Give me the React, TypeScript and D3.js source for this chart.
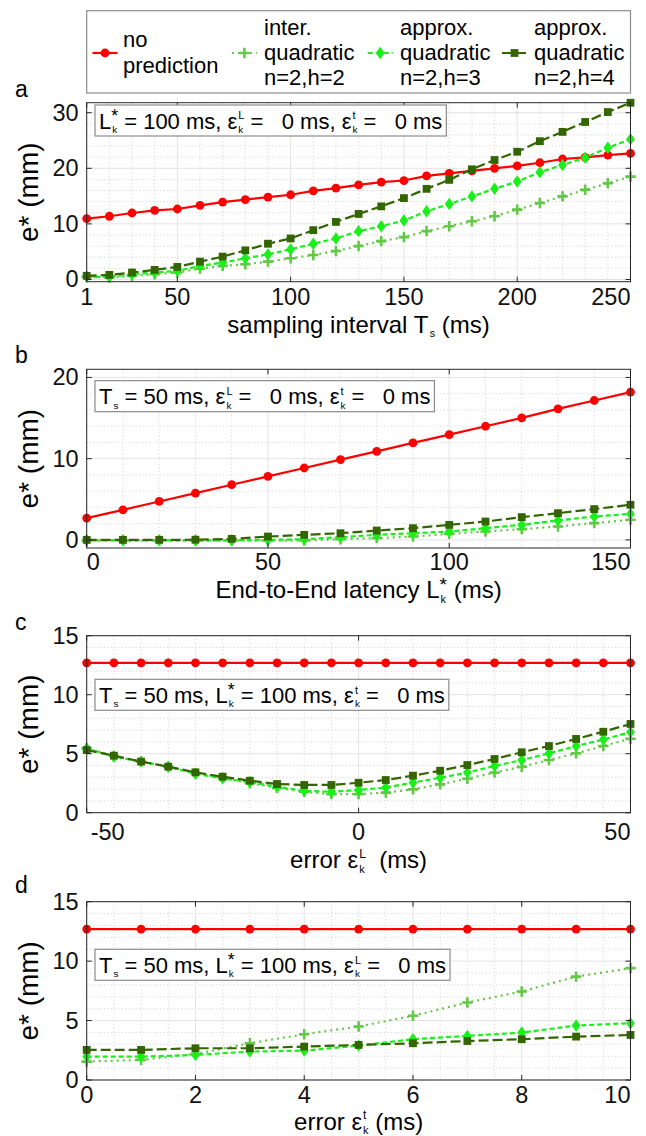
import React from 'react';
import * as d3 from 'd3';

const FONT = '"Liberation Sans", Arial, Helvetica, sans-serif';

// ---------------- data ----------------
const legendLines = [
  ['no', 'prediction'],
  ['inter.', 'quadratic', 'n=2,h=2'],
  ['approx.', 'quadratic', 'n=2,h=3'],
  ['approx.', 'quadratic', 'n=2,h=4'],
];

// panel a: sampling interval
const aX = [10, 20, 30, 40, 50, 60, 70, 80, 90, 100, 110, 120, 130, 140, 150, 160, 170, 180, 190, 200, 210, 220, 230, 240, 250];
const aNoPred = [10.95, 11.37, 11.96, 12.44, 12.68, 13.33, 13.93, 14.35, 14.82, 15.24, 15.95, 16.43, 17.02, 17.5, 17.8, 18.63, 19.1, 19.52, 20.0, 20.42, 21.0, 21.67, 21.96, 22.38, 22.68];
const aInter = [0.48, 0.36, 0.65, 0.95, 1.25, 1.96, 2.44, 2.74, 3.21, 3.81, 4.4, 5.12, 6.01, 6.9, 7.62, 8.69, 9.58, 10.48, 11.37, 12.56, 13.75, 14.94, 16.13, 17.32, 18.51];
const aApprox3 = [0.48, 0.48, 0.95, 1.25, 1.55, 2.44, 3.04, 3.81, 4.52, 5.42, 6.43, 7.38, 8.69, 9.58, 10.6, 12.26, 13.57, 14.94, 16.31, 17.62, 19.29, 20.6, 21.9, 23.69, 25.24];
const aApprox4 = [0.65, 0.83, 1.25, 1.73, 2.26, 3.21, 4.11, 5.24, 6.43, 7.38, 8.87, 10.36, 11.79, 13.15, 14.64, 16.31, 17.92, 19.82, 21.49, 22.98, 24.88, 26.55, 28.33, 30.12, 31.79];
const aXTicks = [10, 50, 100, 150, 200, 250];
const aXTickLabels = ['1', '50', '100', '150', '200', '250'];
const aYTicks = [0, 10, 20, 30];

// panel b: end-to-end latency
const bX = [0, 10, 20, 30, 40, 50, 60, 70, 80, 90, 100, 110, 120, 130, 140, 150];
const bNoPred = [2.68, 3.7, 4.73, 5.76, 6.79, 7.82, 8.85, 9.88, 10.9, 11.94, 12.96, 13.99, 15.02, 16.13, 17.16, 18.19];
const bInter = [-0.08, -0.08, -0.08, -0.08, -0.08, -0.08, -0.08, 0.08, 0.21, 0.41, 0.74, 1.03, 1.32, 1.65, 2.06, 2.47];
const bApprox3 = [-0.05, -0.05, -0.05, -0.05, -0.05, 0.0, 0.08, 0.33, 0.62, 0.82, 1.03, 1.44, 1.85, 2.39, 2.88, 3.2];
const bApprox4 = [0.0, 0.0, 0.0, 0.02, 0.12, 0.41, 0.62, 0.82, 1.15, 1.44, 1.85, 2.26, 2.8, 3.29, 3.79, 4.32];
const bXTicks = [0, 50, 100, 150];
const bXTickLabels = ['0', '50', '100', '150'];
const bYTicks = [0, 10, 20];

// panel c: error eps^L
const cX = [-50, -45, -40, -35, -30, -25, -20, -15, -10, -5, 0, 5, 10, 15, 20, 25, 30, 35, 40, 45, 50];
const cNoPred = [12.7, 12.7, 12.7, 12.7, 12.7, 12.7, 12.7, 12.7, 12.7, 12.7, 12.7, 12.7, 12.7, 12.7, 12.7, 12.7, 12.7, 12.7, 12.7, 12.7, 12.7];
const cInter = [5.45, 4.8, 4.33, 3.9, 3.35, 2.95, 2.5, 2.1, 1.77, 1.57, 1.57, 1.7, 1.98, 2.4, 2.88, 3.4, 3.9, 4.46, 5.03, 5.65, 6.27];
const cApprox3 = [5.45, 4.76, 4.33, 3.9, 3.3, 2.9, 2.6, 2.2, 1.85, 1.77, 1.93, 2.13, 2.55, 2.96, 3.4, 3.96, 4.46, 5.03, 5.65, 6.2, 6.83];
const cApprox4 = [5.31, 4.83, 4.33, 3.9, 3.42, 3.05, 2.71, 2.43, 2.35, 2.35, 2.54, 2.77, 3.14, 3.56, 4.04, 4.55, 5.12, 5.65, 6.25, 6.86, 7.52];
const cXTicks = [-50, 0, 50];
const cXTickLabels = ['-50', '0', '50'];
const cYTicks = [0, 5, 10, 15];

// panel d: error eps^t
const dX = [0, 1, 2, 3, 4, 5, 6, 7, 8, 9, 10];
const dNoPred = [12.7, 12.7, 12.7, 12.7, 12.7, 12.7, 12.7, 12.7, 12.7, 12.7, 12.7];
const dInter = [1.55, 1.69, 2.19, 3.09, 3.85, 4.5, 5.4, 6.52, 7.45, 8.7, 9.41];
const dApprox3 = [1.97, 1.97, 2.11, 2.39, 2.47, 2.89, 3.43, 3.71, 3.99, 4.58, 4.78];
const dApprox4 = [2.53, 2.53, 2.67, 2.67, 2.81, 2.95, 3.09, 3.28, 3.43, 3.65, 3.79];
const dXTicks = [0, 2, 4, 6, 8, 10];
const dXTickLabels = ['0', '2', '4', '6', '8', '10'];
const dYTicks = [0, 5, 10, 15];

const yTitle = 'e* (mm)';

type Seg = { t?: string; sup?: string; sub?: string };

const noteA: Seg[] = [{ t: 'L', sup: '*', sub: 'k' }, { t: ' = 100 ms, ε', sup: 'L', sub: 'k' }, { t: ' =   0 ms, ε', sup: 't', sub: 'k' }, { t: ' =   0 ms' }];
const noteB: Seg[] = [{ t: 'T', sub: 's' }, { t: ' = 50 ms, ε', sup: 'L', sub: 'k' }, { t: ' =   0 ms, ε', sup: 't', sub: 'k' }, { t: ' =   0 ms' }];
const noteC: Seg[] = [{ t: 'T', sub: 's' }, { t: ' = 50 ms, L', sup: '*', sub: 'k' }, { t: ' = 100 ms, ε', sup: 't', sub: 'k' }, { t: ' =   0 ms' }];
const noteD: Seg[] = [{ t: 'T', sub: 's' }, { t: ' = 50 ms, L', sup: '*', sub: 'k' }, { t: ' = 100 ms, ε', sup: 'L', sub: 'k' }, { t: ' =   0 ms' }];

const titleA: Seg[] = [{ t: 'sampling interval T', sub: 's' }, { t: ' (ms)' }];
const titleB: Seg[] = [{ t: 'End-to-End latency L', sup: '*', sub: 'k' }, { t: ' (ms)' }];
const titleC: Seg[] = [{ t: 'error ε', sup: 'L', sub: 'k' }, { t: '  (ms)' }];
const titleD: Seg[] = [{ t: 'error ε', sup: 't', sub: 'k' }, { t: ' (ms)' }];

// ---------------- layout / style ----------------
const W = 646;
const H = 1136;
const PL = 86.7;
const PR = 630.5;
const FS = 22; // legend
const TICK_FS = 23.5;
const TITLE_FS = 24;
const NOTE_FS = 22;
const YTITLE_FS = 28;

const seriesStyle = [
  { color: '#ff0000', dash: null as string | null, marker: 'circle' },
  { color: '#62c846', dash: '2,4', marker: 'plus' },
  { color: '#19f019', dash: '5,3', marker: 'diamond' },
  { color: '#336600', dash: '10,4', marker: 'square' },
];

const panels = [
  { letter: 'a', T: 102.7, B: 281.7, xs: aX, series: [aNoPred, aInter, aApprox3, aApprox4], xDomain: [10, 250], yDomain: [-0.4, 31.8], xTicks: aXTicks, xTickLabels: aXTickLabels, yTicks: aYTicks, xMinor: 10, yMinor: 2, firstAnchor: 'middle', firstDx: 0, tickY: 23.5, note: noteA, noteTop: 2.3, title: titleA, titleY: 332.5, letterY: 97 },
  { letter: 'b', T: 369.3, B: 548, xs: bX, series: [bNoPred, bInter, bApprox3, bApprox4], xDomain: [0, 150], yDomain: [-1, 21], xTicks: bXTicks, xTickLabels: bXTickLabels, yTicks: bYTicks, xMinor: 10, yMinor: 2, firstAnchor: 'start', firstDx: 0, tickY: 22, note: noteB, noteTop: 11.4, title: titleB, titleY: 598, letterY: 363 },
  { letter: 'c', T: 635.7, B: 812.7, xs: cX, series: [cNoPred, cInter, cApprox3, cApprox4], xDomain: [-50, 50], yDomain: [0, 15], xTicks: cXTicks, xTickLabels: cXTickLabels, yTicks: cYTicks, xMinor: 5, yMinor: 1, firstAnchor: 'start', firstDx: 4, tickY: 27, note: noteC, noteTop: 43.6, title: titleC, titleY: 868, letterY: 630 },
  { letter: 'd', T: 901.7, B: 1080, xs: dX, series: [dNoPred, dInter, dApprox3, dApprox4], xDomain: [0, 10], yDomain: [0, 15], xTicks: dXTicks, xTickLabels: dXTickLabels, yTicks: dYTicks, xMinor: 0.5, yMinor: 1, firstAnchor: 'middle', firstDx: 0, tickY: 22.5, note: noteD, noteTop: 47.6, title: titleD, titleY: 1129.5, letterY: 893 },
];

let _ctx: CanvasRenderingContext2D | null = null;
function tw(s: string, size: number): number {
  if (!_ctx) _ctx = document.createElement('canvas').getContext('2d');
  if (!_ctx) return s.length * size * 0.55;
  _ctx.font = `${size}px "Liberation Sans"`;
  return _ctx.measureText(s).width;
}

function richLayout(segs: Seg[], size: number) {
  const supSize = size * 0.5;
  const starSize = size * 0.8;
  const subSize = size * 0.45;
  const items: { s: string; dx: number; dy: number; size: number }[] = [];
  let cx = 0;
  segs.forEach((g) => {
    if (g.t) {
      items.push({ s: g.t, dx: cx, dy: 0, size });
      cx += tw(g.t, size);
    }
    let adv = 0;
    if (g.sup) {
      const ss = g.sup === '*' ? starSize : supSize;
      const up = g.sup === '*' ? size * 0.3 : size * 0.42;
      items.push({ s: g.sup, dx: cx + (g.sup === '*' ? 0 : 1), dy: -up, size: ss });
      adv = Math.max(adv, tw(g.sup, ss) + (g.sup === '*' ? 0 : 1));
    }
    if (g.sub) {
      items.push({ s: g.sub, dx: cx + 1, dy: size * 0.2, size: subSize });
      adv = Math.max(adv, tw(g.sub, subSize) + 1);
    }
    cx += adv;
  });
  return { items, width: cx };
}

function Rich({ x, y, size, segs, anchor = 'start', fill = '#000' }: { x: number; y: number; size: number; segs: Seg[]; anchor?: string; fill?: string }) {
  const { items, width } = richLayout(segs, size);
  const x0 = anchor === 'middle' ? x - width / 2 : anchor === 'end' ? x - width : x;
  return (
    <g>
      {items.map((it, i) => (
        <text key={i} x={x0 + it.dx} y={y + it.dy} fontSize={it.size} fontFamily={FONT} fill={fill} style={{ whiteSpace: 'pre' }}>
          {it.s}
        </text>
      ))}
    </g>
  );
}

function Marker({ kind, x, y, color }: { kind: string; x: number; y: number; color: string }) {
  if (kind === 'circle') return <circle cx={x} cy={y} r={4.4} fill={color} />;
  if (kind === 'plus')
    return <path d={`M${x - 5.2},${y}H${x + 5.2}M${x},${y - 5.2}V${y + 5.2}`} stroke={color} strokeWidth={2.6} fill="none" />;
  if (kind === 'diamond')
    return <path d={`M${x},${y - 6.2}L${x + 4.4},${y}L${x},${y + 6.2}L${x - 4.4},${y}Z`} fill={color} />;
  return <rect x={x - 3.9} y={y - 3.9} width={7.8} height={7.8} fill={color} />;
}

function Panel({ p }: { p: (typeof panels)[number] }) {
  const x = d3.scaleLinear().domain(p.xDomain).range([PL, PR]);
  const y = d3.scaleLinear().domain(p.yDomain).range([p.B, p.T]);
  const xMinor = d3
    .range(Math.ceil(p.xDomain[0] / p.xMinor) * p.xMinor, p.xDomain[1] + 1e-9, p.xMinor)
    .filter((v) => !p.xTicks.some((t) => Math.abs(t - v) < 1e-9) && v > p.xDomain[0] && v < p.xDomain[1]);
  const yMinor = d3
    .range(Math.ceil(p.yDomain[0] / p.yMinor) * p.yMinor, p.yDomain[1] + 1e-9, p.yMinor)
    .filter((v) => !p.yTicks.some((t) => Math.abs(t - v) < 1e-9) && v > p.yDomain[0] && v < p.yDomain[1]);
  const line = d3
    .line<number>()
    .x((_, i) => x(p.xs[i]))
    .y((d) => y(d));
  const noteLayout = richLayout(p.note, NOTE_FS);
  const noteX = 95;
  const noteTop = p.T + p.noteTop;
  const noteH = 31;
  return (
    <g>
      {xMinor.map((v) => (
        <line key={'xm' + v} x1={x(v)} x2={x(v)} y1={p.T} y2={p.B} stroke="#c4c4c4" strokeWidth={0.8} strokeDasharray="1,2.5" />
      ))}
      {yMinor.map((v) => (
        <line key={'ym' + v} x1={PL} x2={PR} y1={y(v)} y2={y(v)} stroke="#c4c4c4" strokeWidth={0.8} strokeDasharray="1,2.5" />
      ))}
      {p.xTicks.map((v) => (
        <line key={'xg' + v} x1={x(v)} x2={x(v)} y1={p.T} y2={p.B} stroke="#e3e3e3" strokeWidth={1} />
      ))}
      {p.yTicks.map((v) => (
        <line key={'yg' + v} x1={PL} x2={PR} y1={y(v)} y2={y(v)} stroke="#e3e3e3" strokeWidth={1} />
      ))}
      {p.series.map((s, si) => {
        const st = seriesStyle[si];
        return (
          <g key={si}>
            <path d={line(s) || ''} fill="none" stroke={st.color} strokeWidth={2.2} strokeDasharray={st.dash || undefined} />
            {s.map((v, i) => (
              <Marker key={i} kind={st.marker} x={x(p.xs[i])} y={y(v)} color={st.color} />
            ))}
          </g>
        );
      })}
      <rect x={PL} y={p.T} width={PR - PL} height={p.B - p.T} fill="none" stroke="#262626" strokeWidth={1} />
      {p.xTicks.map((v) => (
        <g key={'xt' + v}>
          <line x1={x(v)} x2={x(v)} y1={p.B} y2={p.B - 5} stroke="#262626" />
          <line x1={x(v)} x2={x(v)} y1={p.T} y2={p.T + 5} stroke="#262626" />
        </g>
      ))}
      {p.yTicks.map((v) => (
        <g key={'yt' + v}>
          <line x1={PL} x2={PL + 5} y1={y(v)} y2={y(v)} stroke="#262626" />
          <line x1={PR} x2={PR - 5} y1={y(v)} y2={y(v)} stroke="#262626" />
        </g>
      ))}
      {p.xTicks.map((v, i) => {
        const last = i === p.xTicks.length - 1;
        const anchor = i === 0 ? p.firstAnchor : last ? 'end' : 'middle';
        return (
          <text key={'xl' + v} x={x(v) + (i === 0 ? p.firstDx : 0)} y={p.B + p.tickY} fontSize={TICK_FS} fontFamily={FONT} textAnchor={anchor} fill="#111">
            {p.xTickLabels[i]}
          </text>
        );
      })}
      {p.yTicks.map((v) => (
        <text key={'yl' + v} x={PL - 8} y={y(v) + 8} fontSize={TICK_FS} fontFamily={FONT} textAnchor="end" fill="#111">
          {String(v)}
        </text>
      ))}
      <rect x={noteX} y={noteTop} width={noteLayout.width + 8} height={noteH} fill="#fff" stroke="#8c8c8c" strokeWidth={1.2} />
      <Rich x={noteX + 4} y={noteTop + noteH / 2 + 8} size={NOTE_FS} segs={p.note} />
      <Rich x={(PL + PR) / 2} y={p.titleY} size={TITLE_FS} segs={p.title} anchor="middle" />
      <text transform={`translate(${38},${(p.T + p.B) / 2}) rotate(-90)`} textAnchor="middle" fontSize={YTITLE_FS} fontFamily={FONT} fill="#000">
        {yTitle}
      </text>
      <text x={15} y={p.letterY} fontSize={FS + 1} fontFamily={FONT} fill="#000">
        {p.letter}
      </text>
    </g>
  );
}

function Legend() {
  const top = 10.7;
  const bottom = 93;
  const ly = 53;
  const entries = [
    { mx: 105, tx: 123, lines: legendLines[0], base: [46.7, 72.7] },
    { mx: 244.4, tx: 264, lines: legendLines[1], base: [35, 60, 85] },
    { mx: 380.2, tx: 400, lines: legendLines[2], base: [35, 60, 85] },
    { mx: 514.5, tx: 534, lines: legendLines[3], base: [35, 60, 85] },
  ];
  return (
    <g>
      <rect x={PL} y={top} width={PR - PL} height={bottom - top} fill="#fff" stroke="#8c8c8c" strokeWidth={1.2} />
      {entries.map((e, i) => {
        const st = seriesStyle[i];
        return (
          <g key={i}>
            <line x1={e.mx - 12.5} x2={e.mx + 12.5} y1={ly} y2={ly} stroke={st.color} strokeWidth={2.2} strokeDasharray={st.dash || undefined} />
            <Marker kind={st.marker} x={e.mx} y={ly} color={st.color} />
            {e.lines.map((l, j) => (
              <text key={j} x={e.tx} y={e.base[j]} fontSize={FS} fontFamily={FONT} fill="#000">
                {l}
              </text>
            ))}
          </g>
        );
      })}
    </g>
  );
}

export default function App() {
  return (
    <svg width={W} height={H} viewBox={`0 0 ${W} ${H}`} style={{ position: 'absolute', left: 0, top: 0, background: '#fff' }}>
      <rect x={0} y={0} width={W} height={H} fill="#fff" />
      {panels.map((p) => (
        <Panel key={p.letter} p={p} />
      ))}
      <Legend />
    </svg>
  );
}
